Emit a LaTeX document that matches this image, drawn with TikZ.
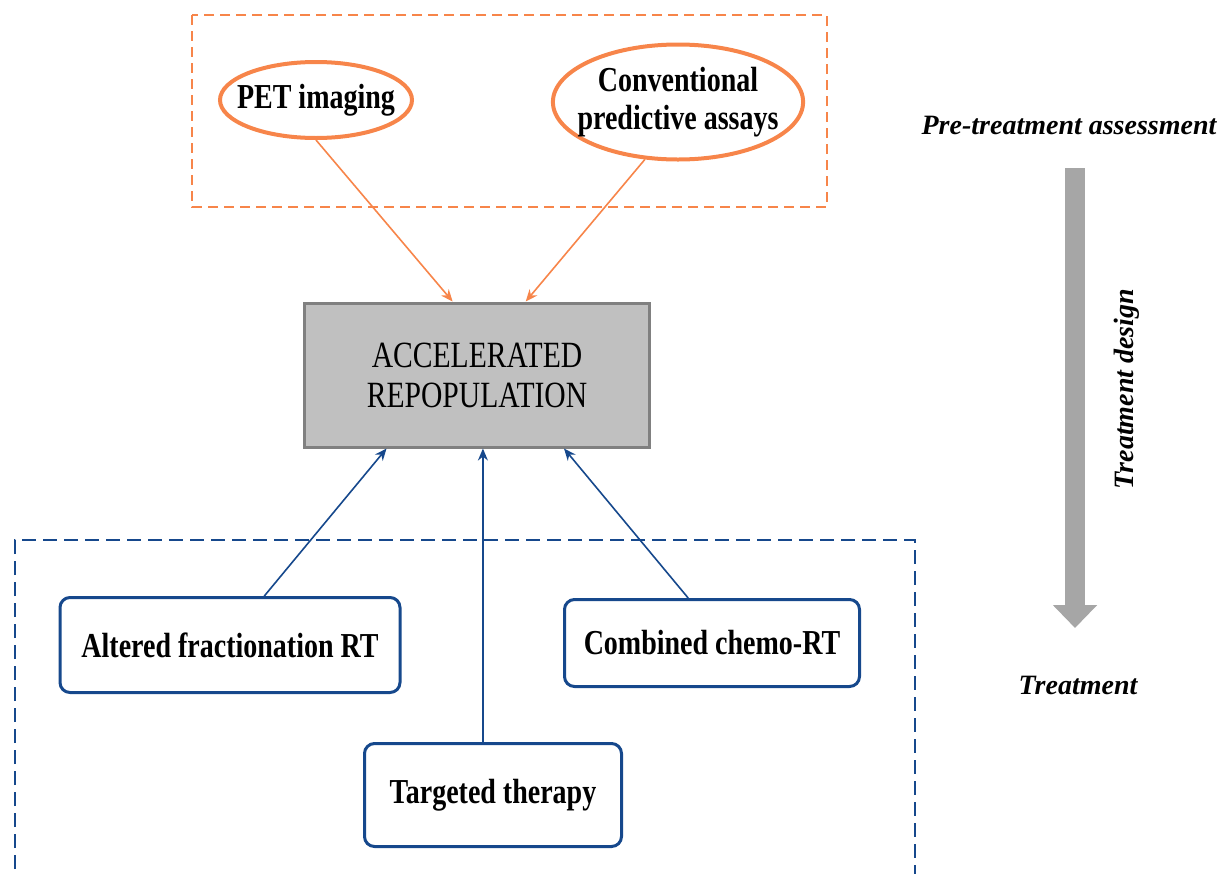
\documentclass[tikz,border=0pt]{standalone}
\usepackage{fontspec}
\setmainfont{Liberation Serif}
\newfontfamily\condfont[FakeStretch=0.8]{Liberation Serif}
\usetikzlibrary{shapes}
\usetikzlibrary{arrows.meta}
\usetikzlibrary{calc}
\definecolor{pumpkin}{RGB}{247,133,74}
\definecolor{navyline}{RGB}{22,72,140}
\definecolor{accfill}{RGB}{192,192,192}
\definecolor{accline}{RGB}{128,128,128}
\definecolor{flowgray}{RGB}{166,166,166}

\tikzset{
  assay/.style={ellipse, draw=pumpkin, line width=2pt, align=center, inner ysep=0pt,
    inner xsep=-6pt, font=\condfont\bfseries\fontsize{17.5}{19}\selectfont},
  therapy/.style={rectangle, rounded corners=5pt, draw=navyline, line width=1.5pt,
    font=\condfont\bfseries\fontsize{17.5}{19}\selectfont},
  stage/.style={font=\bfseries\itshape\fontsize{14}{16}\selectfont},
  orangearrow/.style={color=pumpkin, line width=0.8pt, -{Stealth[length=6pt,width=5pt]}},
  bluearrow/.style={color=navyline, line width=0.8pt, -{Stealth[length=6pt,width=5pt]}}
}

\begin{document}
\begin{tikzpicture}[x=0.5pt, y=-0.5pt]
  \useasboundingbox (0,0) rectangle (1229,873);

  % dashed groups
  \draw[pumpkin, line width=1.2pt, dash pattern=on 5pt off 3pt] (192,15) rectangle (827,207);
  \draw[navyline, line width=1.2pt, dash pattern=on 7pt off 3.5pt]
    (15,890) -- (15,540) -- (915,540) -- (915,890);

  \node[assay, minimum width=96pt, minimum height=38pt] (pet) at (316,100) {PET imaging};
  \node[assay, minimum width=125pt, minimum height=57.5pt] (conv) at (678,102)
    {Conventional\\predictive assays};

  \node[draw=accline, fill=accfill, line width=1.5pt, minimum width=172.5pt,
    minimum height=72pt, align=center, font=\condfont\fontsize{18.5}{20}\selectfont]
    (acc) at (477,375) {ACCELERATED\\REPOPULATION};

  \node[therapy, minimum width=170pt, minimum height=47.5pt] (alt) at (230,645)
    {Altered fractionation RT};
  \node[therapy, minimum width=147.5pt, minimum height=43.5pt] (comb) at (712,643)
    {Combined chemo-RT};
  \node[therapy, minimum width=128.5pt, minimum height=51.5pt] (tgt) at (493,795)
    {Targeted therapy};

  \draw[orangearrow] (pet.south) -- ($(acc.north west)!0.43!(acc.north east)$);
  \draw[orangearrow] (conv.240) -- ($(acc.north west)!0.64!(acc.north east)$);

  \coordinate (accmid) at ($(acc.south west)!0.517!(acc.south east)$);
  \draw[bluearrow] ($(alt.north west)!0.6!(alt.north east)$)
    -- ($(acc.south west)!0.24!(acc.south east)$);
  \draw[bluearrow] (tgt.north -| accmid) -- (accmid);
  \draw[bluearrow] ($(comb.north west)!0.42!(comb.north east)$)
    -- ($(acc.south west)!0.75!(acc.south east)$);

  % time line on the right
  \node[stage] (pre) at (1069,125) {Pre-treatment assessment};
  \node[stage] (trt) at (1078,685) {Treatment};
  \node[stage, rotate=90] (dsg) at (1127,389) {Treatment design};
  \coordinate (flowtop) at (1075,168);
  \coordinate (flowbot) at (1075,628);
  \draw[flowgray, line width=10pt, -{Triangle[length=11.5pt,width=21.5pt]}] (flowtop) -- (flowbot);
\end{tikzpicture}
\end{document}
